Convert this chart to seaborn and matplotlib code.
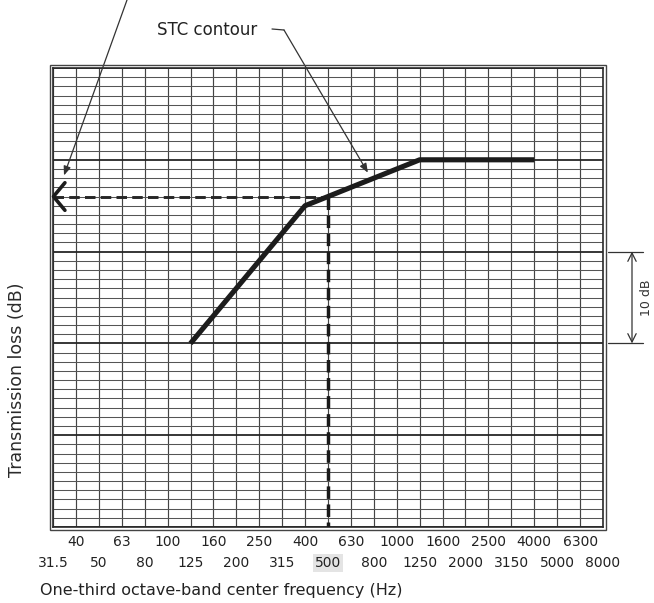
import matplotlib
matplotlib.use("Agg")
import matplotlib.pyplot as plt
from matplotlib.patches import Rectangle
from matplotlib.transforms import blended_transform_factory
import numpy as np
import pandas as pd
import seaborn as sns

# ---- data ----
freqs = ["31.5", "40", "50", "63", "80", "100", "125", "160", "200", "250",
         "315", "400", "500", "630", "800", "1000", "1250", "1600", "2000",
         "2500", "3150", "4000", "5000", "6300", "8000"]
contour_bands = ["125", "160", "200", "250", "315", "400", "500", "630", "800",
                 "1000", "1250", "1600", "2000", "2500", "3150", "4000"]
contour_tl = [30, 33, 36, 39, 42, 45, 46, 47, 48, 49, 50, 50, 50, 50, 50, 50]
stc_band = "500"
stc_value = 46
y_range = (10, 60)
bracket_levels = [30, 40]

sns.set_theme(style="white")
plt.rcParams["font.family"] = ["DejaVu Sans"]

W, H = 654, 603
fig = plt.figure(figsize=(W / 100, H / 100), dpi=100)
fig.patch.set_facecolor("white")
ax = fig.add_axes([53 / W, 1 - 527 / H, 550 / W, 459 / H])

pos = {f: i for i, f in enumerate(freqs)}
df = pd.DataFrame({"band": contour_bands, "tl": contour_tl})
df["pos"] = df["band"].map(pos)

ax.set_xlim(0, len(freqs) - 1)
ax.set_ylim(*y_range)

# graph-paper grid
for i in range(len(freqs)):
    ax.axvline(i, color="#444444", lw=0.85, zorder=1)
for v in range(y_range[0], y_range[1] + 1):
    if v % 10 == 0:
        ax.axhline(v, color="#262626", lw=1.3, zorder=1)
    else:
        ax.axhline(v, color="#555555", lw=0.75, zorder=1)

# STC contour
sns.lineplot(data=df, x="pos", y="tl", ax=ax, color="#1c1c1c", lw=3.7,
             estimator=None, sort=False, zorder=5)
ax.lines[-1].set_solid_capstyle("butt")

# dashed reference lines
sx = pos[stc_band]
ax.plot([0, sx], [stc_value, stc_value], ls=(0, (3.6, 1.8)), color="#262626",
        lw=2.1, zorder=4)
ax.plot([sx, sx], [stc_value, y_range[0]], ls=(0, (3.6, 1.6)), color="#1a1a1a",
        lw=2.5, zorder=4)
# left arrow head "<"
ax.plot([0.52, 0.02, 0.52], [stc_value + 1.5, stc_value, stc_value - 1.5],
        color="#1c1c1c", lw=2.6, zorder=6, clip_on=False, solid_capstyle="round")

# axes decoration
for s in ax.spines.values():
    s.set_visible(True)
    s.set_color("#2a2a2a")
    s.set_linewidth(1.2)
fig.add_artist(Rectangle((50 / W, 1 - 530 / H), 556 / W, 465 / H,
                         transform=fig.transFigure, fill=False,
                         ec="#444444", lw=1.0))

ax.set_yticks([])
ax.set_xticks(range(0, len(freqs), 2))
ax.set_xticklabels(freqs[0::2])
ax.set_xticks(range(1, len(freqs), 2), minor=True)
ax.set_xticklabels(freqs[1::2], minor=True)
ax.tick_params(axis="x", which="major", length=0, pad=21, labelsize=10,
               labelcolor="#222222")
ax.tick_params(axis="x", which="minor", length=0, pad=6, labelsize=10,
               labelcolor="#222222")
ax.grid(False)
for lab in ax.get_xticklabels():
    if lab.get_text() == stc_band:
        lab.set_bbox(dict(facecolor="#e4e4e4", edgecolor="none", pad=1.5))
ax.set_xlabel("")
ax.set_ylabel("")

fig.text(40 / W, 1 - 590 / H, "One-third octave-band center frequency (Hz)",
         ha="left", va="center", fontsize=11.5, color="#222222")
fig.text(17 / W, 1 - 380 / H, "Transmission loss (dB)", rotation=90,
         ha="center", va="center", fontsize=12.5, color="#2a2a2a")

# annotations
fig.text(157 / W, 1 - 30 / H, "STC contour", ha="left", va="center",
         fontsize=12, color="#222222")
fig.add_artist(plt.Line2D([272 / W, 284 / W], [1 - 29 / H, 1 - 30 / H],
                          transform=fig.transFigure, color="#333333", lw=0.9))
ax.annotate("", xy=(13.74, 48.6), xycoords="data",
            xytext=(284 / W, 1 - 30 / H), textcoords="figure fraction",
            arrowprops=dict(arrowstyle="-|>,head_length=0.45,head_width=0.18",
                            color="#333333", lw=0.9, shrinkA=0, shrinkB=0),
            annotation_clip=False, zorder=7)
ax.annotate("", xy=(0.48, 48.3), xycoords="data",
            xytext=(127 / W, 1.0), textcoords="figure fraction",
            arrowprops=dict(arrowstyle="-|>,head_length=0.45,head_width=0.18",
                            color="#333333", lw=0.9, shrinkA=0, shrinkB=0),
            annotation_clip=False, zorder=7)

# 10 dB bracket
bt = blended_transform_factory(fig.transFigure, ax.transData)
for lvl in bracket_levels:
    ax.plot([608 / W, 643 / W], [lvl, lvl], transform=bt, color="#333333",
            lw=0.9, clip_on=False)
ax.annotate("", xy=(632 / W, bracket_levels[1]), xycoords=bt,
            xytext=(632 / W, bracket_levels[0]), textcoords=bt,
            arrowprops=dict(arrowstyle="<->,head_length=0.5,head_width=0.25",
                            color="#333333", lw=0.9, shrinkA=0, shrinkB=0),
            annotation_clip=False)
ax.text(647 / W, np.mean(bracket_levels), "10 dB", transform=bt, rotation=90,
        ha="center", va="center", fontsize=9, color="#333333", clip_on=False)

fig.savefig("out.png", dpi=100, facecolor="white")
